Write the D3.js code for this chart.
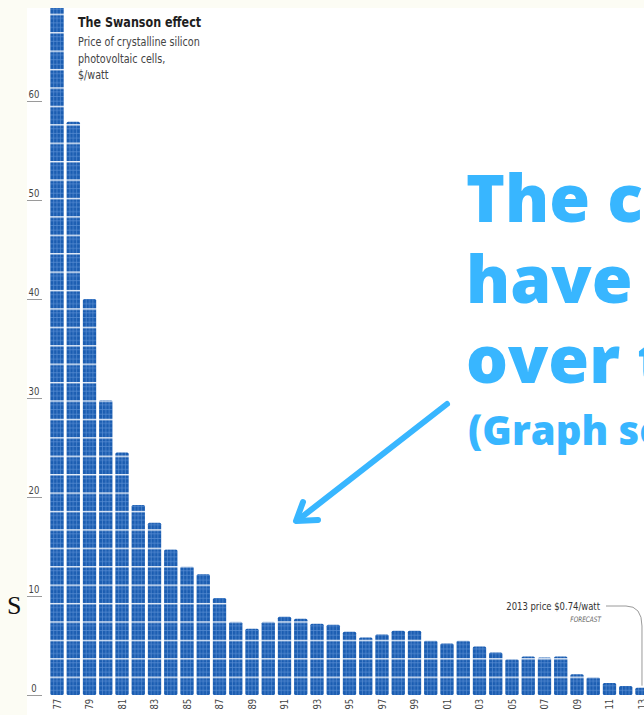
<!DOCTYPE html>
<html>
<head>
<meta charset="utf-8">
<script src="https://cdn.jsdelivr.net/npm/d3@7"></script>
<style>
  html, body { margin: 0; padding: 0; background: #fcfcf4; }
  svg { display: block; overflow: hidden; }
</style>
</head>
<body>
<div id="chart"></div>
<script>
// values, $/watt
var years = [1977, 1978, 1979, 1980, 1981, 1982, 1983, 1984, 1985, 1986,
             1987, 1988, 1989, 1990, 1991, 1992, 1993, 1994, 1995, 1996,
             1997, 1998, 1999, 2000, 2001, 2002, 2003, 2004, 2005, 2006,
             2007, 2008, 2009, 2010, 2011, 2012, 2013];
var prices = [76.67, 57.9, 40.0, 29.8, 24.5, 19.2, 17.4, 14.7, 13.0, 12.2,
              9.8, 7.4, 6.7, 7.4, 7.9, 7.7, 7.2, 7.1, 6.4, 5.8,
              6.1, 6.5, 6.5, 5.5, 5.2, 5.5, 4.9, 4.3, 3.6, 3.9,
              3.8, 3.9, 2.1, 1.8, 1.2, 0.9, 0.74];
var yTicks = [0, 10, 20, 30, 40, 50, 60];
var xTickYears = [1977, 1979, 1981, 1983, 1985, 1987, 1989, 1991, 1993, 1995,
                  1997, 1999, 2001, 2003, 2005, 2007, 2009, 2011, 2013];
var titleLines = ["Price of crystalline silicon", "photovoltaic cells,", "$/watt"];
var bigLines = ["The costs", "have fallen", "over time"];

var width = 644, height = 715;
var svg = d3.select("#chart").append("svg")
    .attr("width", width)
    .attr("height", height);

var sansFont = "'DejaVu Sans', sans-serif";
var squeeze = 0.77; // the chart's type is a condensed face

// white chart image on the cream page
svg.append("rect")
    .attr("x", 27).attr("y", 8)
    .attr("width", width - 27).attr("height", height - 8)
    .attr("fill", "#ffffff");

var xScale = d3.scaleBand()
    .domain(years)
    .range([48.9, 650.1])
    .paddingInner(0.18)
    .paddingOuter(0.09);

var yScale = d3.scaleLinear().domain([0, 60]).range([695, 101]);

// solar panel look: one pattern tile per bar step and cell height
var step = xScale.step(), bw = xScale.bandwidth();
var cellH = yScale(0) - yScale(1.86);
var defs = svg.append("defs");
var pat = defs.append("pattern")
    .attr("id", "panel")
    .attr("patternUnits", "userSpaceOnUse")
    .attr("x", xScale(years[0]))
    .attr("y", yScale(0))
    .attr("width", step)
    .attr("height", cellH);
pat.append("rect").attr("width", step).attr("height", cellH).attr("fill", "#1b5db1");
[1, 2, 3].forEach(function (k) {
    pat.append("line")
        .attr("x1", k * bw / 4).attr("x2", k * bw / 4)
        .attr("y1", 0).attr("y2", cellH)
        .attr("stroke", "#5a8ed3").attr("stroke-width", 0.7);
    pat.append("line")
        .attr("x1", 0).attr("x2", bw)
        .attr("y1", k * cellH / 4).attr("y2", k * cellH / 4)
        .attr("stroke", "#5a8ed3").attr("stroke-width", 0.7);
});
pat.append("rect").attr("x", 0).attr("y", 0).attr("width", step).attr("height", 1.4)
    .attr("fill", "#e6eef9");

defs.append("clipPath").attr("id", "plotClip")
    .append("rect").attr("x", 27).attr("y", 8).attr("width", width - 27).attr("height", height - 8);

function place(x, y) {
    return "translate(" + x + "," + y + ") scale(" + squeeze + ",1)";
}

// y ticks: short rule with the number sitting on it
var yAxis = svg.append("g");
yAxis.selectAll("line").data(yTicks).enter().append("line")
    .attr("x1", 27).attr("x2", 42)
    .attr("y1", function (d) { return yScale(d) + 0.5; })
    .attr("y2", function (d) { return yScale(d) + 0.5; })
    .attr("stroke", "#9a9a9a").attr("stroke-width", 1);
yAxis.selectAll("text").data(yTicks).enter().append("text")
    .attr("transform", function (d) { return place(34, yScale(d) - 3); })
    .attr("text-anchor", "middle")
    .attr("font-family", sansFont)
    .attr("font-size", 11)
    .attr("fill", "#444")
    .text(function (d) { return d; });

// bars
svg.append("g").attr("clip-path", "url(#plotClip)")
    .selectAll("rect").data(prices).enter().append("rect")
    .attr("x", function (d, i) { return xScale(years[i]); })
    .attr("y", function (d) { return yScale(d); })
    .attr("width", bw)
    .attr("height", function (d) { return yScale(0) - yScale(d); })
    .attr("rx", 1.5)
    .attr("fill", "url(#panel)");

// x axis labels, rotated
var xAxis = d3.axisBottom(xScale)
    .tickValues(xTickYears)
    .tickFormat(function (d) { return String(d).slice(2); })
    .tickSize(0);
var gx = svg.append("g")
    .attr("transform", "translate(0," + (yScale(0) + 3) + ")")
    .call(xAxis);
gx.select(".domain").remove();
gx.selectAll("text")
    .attr("font-family", sansFont)
    .attr("font-size", 11)
    .attr("fill", "#444")
    .attr("text-anchor", "end")
    .attr("dx", "-0.1em")
    .attr("dy", "0.35em")
    .attr("y", 0)
    .attr("transform", "rotate(-90) scale(" + squeeze + ",1)");

// title block
svg.append("text")
    .attr("transform", place(78, 27))
    .attr("font-family", sansFont)
    .attr("font-weight", "bold")
    .attr("font-size", 14.5)
    .attr("fill", "#1e1e1e")
    .text("The Swanson effect");
svg.append("g").selectAll("text").data(titleLines).enter().append("text")
    .attr("transform", function (d, i) { return place(78, 46 + i * 16.5); })
    .attr("font-family", sansFont)
    .attr("font-size", 12.5)
    .attr("fill", "#444")
    .text(function (d) { return d; });

// 2013 note with leader line
var last = years.length - 1;
var lastX = xScale(years[last]) + bw / 2;
svg.append("text")
    .attr("transform", place(600, 610))
    .attr("text-anchor", "end")
    .attr("font-family", sansFont)
    .attr("font-size", 11)
    .attr("fill", "#333")
    .text("2013 price $0.74/watt");
svg.append("text")
    .attr("transform", place(601, 622))
    .attr("text-anchor", "end")
    .attr("font-family", sansFont)
    .attr("font-style", "italic")
    .attr("font-size", 7.5)
    .attr("fill", "#666")
    .text("FORECAST");
svg.append("path")
    .attr("d", "M606,606 L626,606 Q" + lastX + ",606 " + lastX + ",626 L" + lastX + "," + (yScale(prices[last]) - 2))
    .attr("fill", "none")
    .attr("stroke", "#9a9a9a")
    .attr("stroke-width", 1);

// overlay from the slide: big blue text and arrow
var blue = "#38b6ff";
svg.append("g").selectAll("text").data(bigLines).enter().append("text")
    .attr("x", 466)
    .attr("y", function (d, i) { return 222 + i * 80.5; })
    .attr("font-family", "'Open Sans', Lato, sans-serif")
    .attr("font-weight", 800)
    .attr("font-size", 66)
    .attr("fill", blue)
    .text(function (d) { return d; });
svg.append("text")
    .attr("x", 468).attr("y", 445)
    .attr("font-family", "'Open Sans', Lato, sans-serif")
    .attr("font-weight", 800)
    .attr("font-size", 40)
    .attr("fill", blue)
    .text("(Graph source)");
svg.append("path")
    .attr("d", "M447,404 L298,520")
    .attr("stroke", blue).attr("stroke-width", 6)
    .attr("stroke-linecap", "round").attr("fill", "none");
svg.append("path")
    .attr("d", "M303,502 L296,521 L318,520")
    .attr("stroke", blue).attr("stroke-width", 6)
    .attr("stroke-linecap", "round").attr("stroke-linejoin", "round")
    .attr("fill", "none");

// stray serif letter at the left edge
svg.append("text")
    .attr("x", 7).attr("y", 614)
    .attr("font-family", "'Liberation Serif', 'DejaVu Serif', serif")
    .attr("font-size", 26)
    .attr("fill", "#111")
    .text("S");
</script>
</body>
</html>
